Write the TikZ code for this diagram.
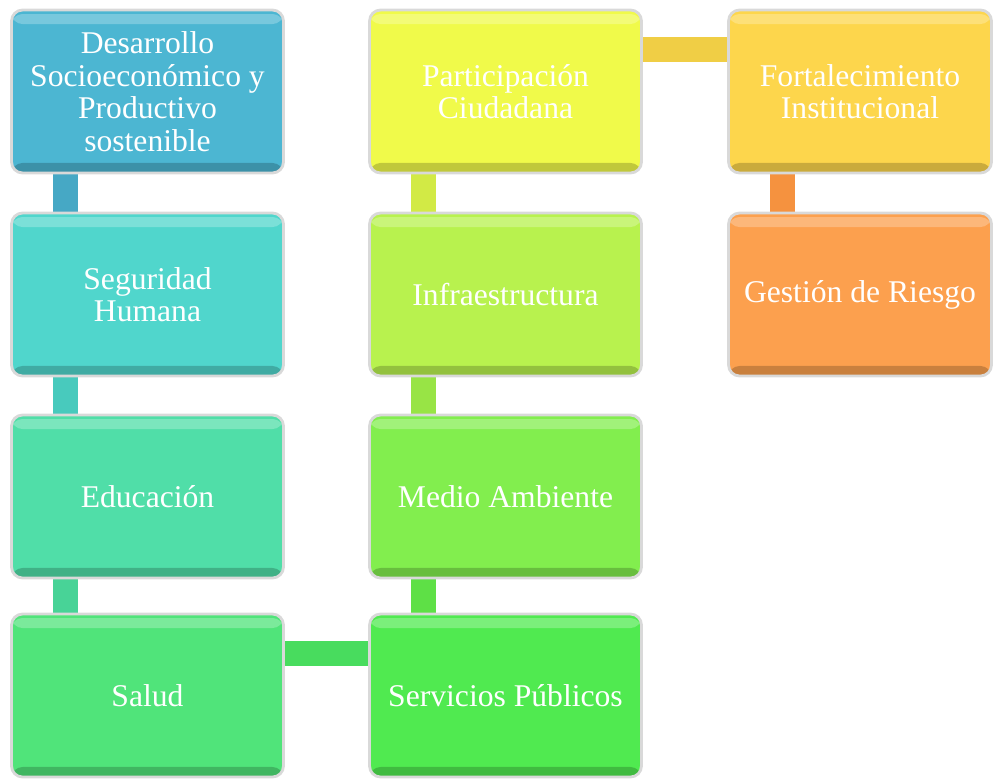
\documentclass[tikz,border=0pt]{standalone}
\usepackage{fontspec}
\setmainfont{Liberation Serif}
\usetikzlibrary{backgrounds}

\definecolor{cDes}{RGB}{76,182,210}
\definecolor{cSeg}{RGB}{80,214,204}
\definecolor{cEdu}{RGB}{80,222,168}
\definecolor{cSal}{RGB}{80,228,122}
\definecolor{cSer}{RGB}{80,234,80}
\definecolor{cMed}{RGB}{130,238,78}
\definecolor{cInf}{RGB}{184,242,78}
\definecolor{cPar}{RGB}{240,250,74}
\definecolor{cFor}{RGB}{253,214,76}
\definecolor{cGes}{RGB}{252,160,78}
\definecolor{bDes}{RGB}{70,168,197}
\definecolor{bSeg}{RGB}{72,202,189}
\definecolor{bEdu}{RGB}{72,211,151}
\definecolor{bSal}{RGB}{72,220,94}
\definecolor{bSer}{RGB}{94,224,70}
\definecolor{bMed}{RGB}{152,228,69}
\definecolor{bInf}{RGB}{210,234,69}
\definecolor{bPar}{RGB}{240,206,69}
\definecolor{bFor}{RGB}{245,146,63}

\begin{document}
\begin{tikzpicture}[x=0.02cm,y=-0.02cm,
    caja/.style={draw=gray!30,line width=1.6pt,rounded corners=0.22cm,
        minimum width=5.44cm,minimum height=3.26cm,align=center,text=white,
        inner sep=2pt,font=\fontsize{18}{18.5}\selectfont,
        path picture={
            \fill[white,opacity=0.25] ([yshift=-0.08cm]path picture bounding box.north west) rectangle ([yshift=-0.28cm]path picture bounding box.north east);
            \fill[black,opacity=0.2] ([yshift=0.2cm]path picture bounding box.south west) rectangle (path picture bounding box.south east);
        }},
    barra/.style={line width=0.5cm}]
    \useasboundingbox (0,0) rectangle (994,778);
    % columna izquierda
    \node[caja,fill=cDes] (des) at (147.5,91.5) {Desarrollo\\Socioeconómico y\\Productivo\\sostenible};
    \node[caja,fill=cSeg] (seg) at (147.5,294.5) {Seguridad\\Humana};
    \node[caja,fill=cEdu] (edu) at (147.5,496.5) {Educación};
    \node[caja,fill=cSal] (sal) at (147.5,695.5) {Salud};
    % columna central
    \node[caja,fill=cPar] (par) at (505.5,91.5) {Participación\\Ciudadana};
    \node[caja,fill=cInf] (inf) at (505.5,294.5) {Infraestructura};
    \node[caja,fill=cMed] (med) at (505.5,496.5) {Medio Ambiente};
    \node[caja,fill=cSer] (ser) at (505.5,695.5) {Servicios Públicos};
    % columna derecha
    \node[caja,fill=cFor,minimum width=5.26cm] (fort) at (860,91.5) {Fortalecimiento\\Institucional};
    \node[caja,fill=cGes,minimum width=5.26cm] (ges) at (860,294.5) {Gestión de Riesgo};
    \begin{scope}[on background layer]
        \draw[barra,bDes] ([xshift=1.1cm]des.south west) -- ([xshift=1.1cm]seg.north west);
        \draw[barra,bSeg] ([xshift=1.1cm]seg.south west) -- ([xshift=1.1cm]edu.north west);
        \draw[barra,bEdu] ([xshift=1.1cm]edu.south west) -- ([xshift=1.1cm]sal.north west);
        \draw[barra,bSal] ([yshift=-0.82cm]sal.north east) -- ([yshift=-0.82cm]ser.north west);
        \draw[barra,bSer] ([xshift=1.1cm]ser.north west) -- ([xshift=1.1cm]med.south west);
        \draw[barra,bMed] ([xshift=1.1cm]med.north west) -- ([xshift=1.1cm]inf.south west);
        \draw[barra,bInf] ([xshift=1.1cm]inf.north west) -- ([xshift=1.1cm]par.south west);
        \draw[barra,bPar] ([yshift=-0.82cm]par.north east) -- ([yshift=-0.82cm]fort.north west);
        \draw[barra,bFor] ([xshift=1.1cm]fort.south west) -- ([xshift=1.1cm]ges.north west);
    \end{scope}
\end{tikzpicture}
\end{document}
